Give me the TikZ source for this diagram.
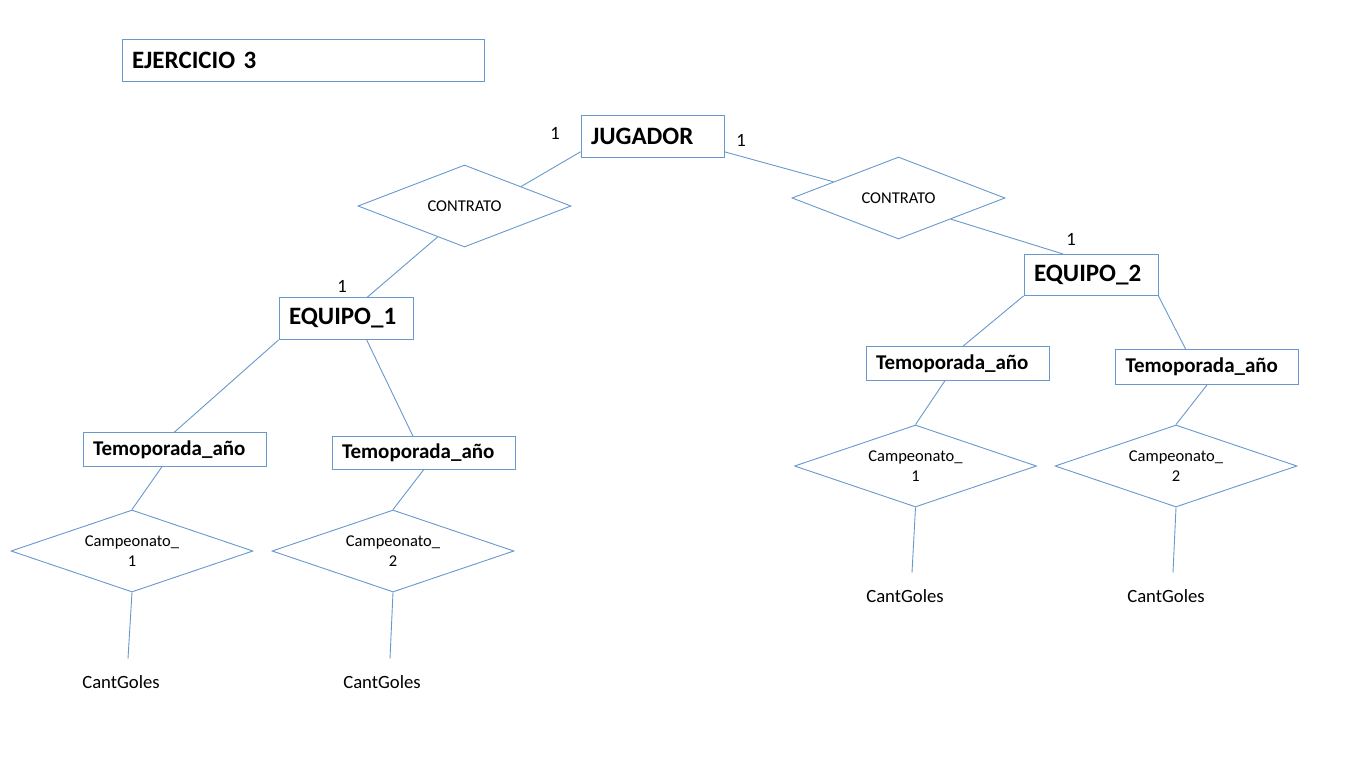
\documentclass[tikz,border=0pt]{standalone}
\usepackage{fontspec}
\setmainfont{Carlito}
\usetikzlibrary{shapes.geometric,calc}
\definecolor{linecol}{RGB}{104,152,204}

\begin{document}
\begin{tikzpicture}[x=1pt,y=-1pt]
\useasboundingbox (0,0) rectangle (1366,768);
\draw[
    draw=linecol, line width=0.9pt,
    ent/.style={draw=linecol, align=left, inner xsep=10pt, inner ysep=0pt,
        minimum height=42pt, font=\fontsize{25}{30}\selectfont\bfseries},
    season/.style={ent, text width=163pt, minimum height=34pt,
        font=\fontsize{21}{25}\selectfont\bfseries},
    rel/.style={draw=linecol, diamond, shape aspect=2.9, inner sep=0pt, align=center,
        minimum width=213pt, minimum height=82pt,
        font=\fontsize{16.5}{20}\selectfont},
    champ/.style={rel, minimum width=242pt},
    attr/.style={minimum height=46pt, inner sep=0pt, font=\fontsize{18.7}{22}\selectfont},
    card/.style={font=\fontsize{18.7}{22}\selectfont},
]
node[ent, text width=342pt] (ej) at (303,60.5) {EJERCICIO 3}
node[ent, text width=123pt] (jug) at (652.5,136.5) {JUGADOR}
node[rel] (cl) at (464.5,206) {CONTRATO}
node[rel] (cr) at (898.5,198) {CONTRATO}
node[ent, text width=114pt] (eq1) at (346,318.5) {EQUIPO\_1}
node[ent, text width=114pt, minimum height=41pt] (eq2) at (1091,275) {EQUIPO\_2}

% temporadas
node[season] (ta1) at (174.5,449.5) {Temoporada\_año}
node[season, minimum height=33pt] (ta2) at (423.5,453) {Temoporada\_año}
node[season] (ta3) at (957.5,363.5) {Temoporada\_año}
node[season, minimum height=35pt] (ta4) at (1207,367) {Temoporada\_año}

% campeonatos
node[champ] (ca1) at (132,551) {Campeonato\_\\1}
node[champ] (ca2) at (393,551) {Campeonato\_\\2}
node[champ] (ca3) at (915.5,466) {Campeonato\_\\1}
node[champ] (ca4) at (1176,466) {Campeonato\_\\2}

node[attr] (g1) at (121,682) {CantGoles}
node[attr] (g2) at (382,682) {CantGoles}
node[attr] (g3) at (905,596) {CantGoles}
node[attr] (g4) at (1166,596) {CantGoles}

% cardinalidades
node[card] (c1) at (555,133) {1}
node[card] (c2) at (741,140) {1}
node[card] (c3) at (342,286) {1}
node[card] (c4) at (1071,239) {1}

(jug.192) edge (cl.19)
(cl.229) edge (eq1.45)
(jug.-12) edge (cr.166)
(cr.-22) edge (eq2.143)
(eq1.south west) edge (ta1.north)
(eq1.-46) edge (ta2.122)
(eq2.south west) edge (ta3.72)
(eq2.south east) edge (ta4.140)
(ta1.-126) edge (ca1.north)
(ta2.south) edge (ca2.north)
(ta3.-126) edge (ca3.north)
(ta4.south) edge (ca4.north)
(ca1.south) edge ([xshift=7pt]g1.north)
(ca2.south) edge ([xshift=8pt]g2.north)
(ca3.south) edge ([xshift=7pt]g3.north)
(ca4.south) edge ([xshift=7pt]g4.north)
;
\end{tikzpicture}
\end{document}
